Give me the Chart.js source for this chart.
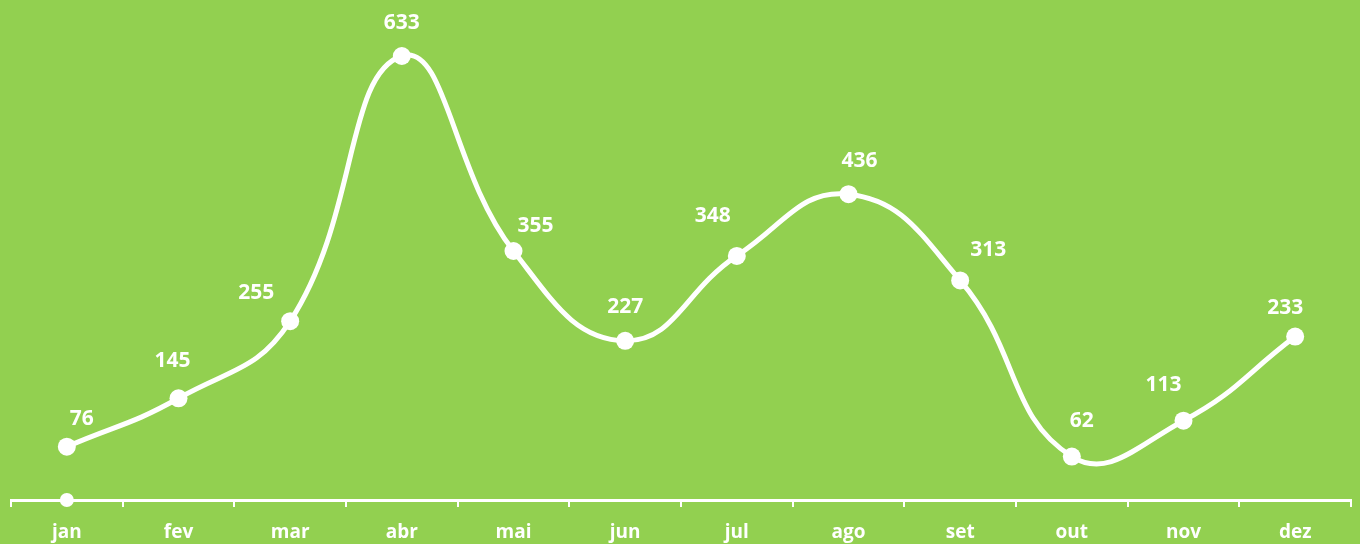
<!DOCTYPE html>
<html>
<head>
<meta charset="utf-8">
<script src="https://cdn.jsdelivr.net/npm/chart.js@4.4.0/dist/chart.umd.min.js"></script>
<style>
  html, body { margin: 0; padding: 0; background: #92D050; }
  .wrap { position: relative; width: 1360px; height: 544px; }
</style>
</head>
<body>
<div class="wrap"><canvas id="chart"></canvas></div>
<script>
// ---------------- DATA ----------------
const months = ["jan", "fev", "mar", "abr", "mai", "jun", "jul", "ago", "set", "out", "nov", "dez"];
const values = [76, 145, 255, 633, 355, 227, 348, 436, 313, 62, 113, 233];
const baseDot = [0, null, null, null, null, null, null, null, null, null, null, null];

// label nudges (px) as placed in the original
const labelDx = [15, -6, -34, 0, 22, 0, -24, 11, 28, 10, -20, -10];
const labelDy = [-28, -37, -28, -33, -25, -34, -40, -33, -30, -35, -36, -29];

const WHITE = "#FFFFFF";
const FONT = "'Open Sans', 'DejaVu Sans', sans-serif";

// simple value labels above the points (no datalabels plugin offline)
const valueLabels = {
  id: "valueLabels",
  afterDatasetsDraw(chart) {
    const ctx = chart.ctx;
    const meta = chart.getDatasetMeta(0);
    ctx.save();
    ctx.fillStyle = WHITE;
    ctx.font = "bold 21px " + FONT;
    ctx.textAlign = "center";
    ctx.textBaseline = "middle";
    meta.data.forEach((pt, i) => {
      ctx.fillText(values[i], pt.x + labelDx[i], pt.y + labelDy[i]);
    });
    ctx.restore();
  }
};

new Chart(document.getElementById("chart"), {
  type: "line",
  data: {
    labels: months,
    datasets: [{
      data: values,
      borderColor: WHITE,
      borderWidth: 5,
      tension: 0.45,
      pointRadius: 9,
      pointBackgroundColor: WHITE,
      pointBorderWidth: 0,
      fill: false
    }, {
      data: baseDot,
      showLine: false,
      clip: false,
      pointRadius: 7,
      pointBackgroundColor: WHITE,
      pointBorderWidth: 0
    }]
  },
  options: {
    responsive: true,
    maintainAspectRatio: false,
    animation: false,
    layout: { padding: { top: 4, left: 11, right: 9, bottom: 0 } },
    plugins: {
      legend: { display: false },
      tooltip: { enabled: false }
    },
    scales: {
      x: {
        offset: true,
        afterFit: s => { s.height = 44; },
        grid: {
          offset: true,
          drawOnChartArea: false,
          color: WHITE,
          lineWidth: 2,
          tickLength: 7
        },
        border: { color: WHITE, width: 3 },
        ticks: {
          color: WHITE,
          padding: 14,
          font: { family: FONT, size: 19, weight: "bold" }
        }
      },
      y: {
        display: false,
        min: 0,
        max: 700
      }
    }
  },
  plugins: [valueLabels]
});
</script>
</body>
</html>
